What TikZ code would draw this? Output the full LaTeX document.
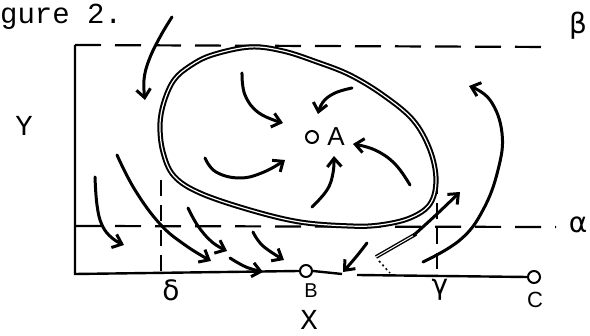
\documentclass[tikz,border=0pt]{standalone}
\usepackage{fontspec}
\setmonofont{Liberation Mono}
\setsansfont{Liberation Sans}
\newfontfamily\grkfont{DejaVu Sans}
\usetikzlibrary{arrows.meta}
\begin{document}
\begin{tikzpicture}[x=1pt,y=-1pt,
  ink/.style={line width=3pt, line cap=round, line join=round},
  harrow/.style={ink, -{Straight Barb[angle=80:11pt]}},
  axisline/.style={line width=2.4pt},
  hdash/.style={line width=2.2pt, dash pattern=on 26pt off 14pt},
  vdash/.style={line width=2.2pt, dash pattern=on 16pt off 9pt},
  rim/.style={line width=2pt, double=white, double distance=1.2pt},
  tt/.style={font=\fontsize{29}{33}\selectfont\ttfamily, inner sep=0pt},
  hand/.style={font=\fontsize{26}{30}\selectfont\sffamily, inner sep=0pt},
  greek/.style={font=\fontsize{28}{32}\selectfont\grkfont, inner sep=0pt},
]
\useasboundingbox (0,0) rectangle (590,336);

% title and labels
\node[tt, anchor=base west] (title) at (0,24) {gure 2.};
\node[tt] (ylab) at (24,126) {Y};
\node[tt] (xlab) at (309,320) {X};
\node[greek] (beta) at (578,26) {β};
\node[greek] (alpha) at (578,225) {α};
\node[greek] (delta) at (171,290) {δ};
\node[greek] (gamma) at (440,290) {γ};
\node[hand, font=\fontsize{20}{22}\selectfont\sffamily] (blab) at (311,291) {B};
\node[hand, font=\fontsize{22}{24}\selectfont\sffamily] (clab) at (535,300) {C};
\node[hand] (alab) at (336,137) {A};

% axes
\coordinate (origin) at (75,274);
\coordinate (ytop) at (75,45);
\node[circle, draw, line width=2pt, minimum size=12pt, inner sep=0pt] (B) at (306,271) {};
\node[circle, draw, line width=2pt, minimum size=12pt, inner sep=0pt] (C) at (534,277) {};
\node[circle, draw, line width=2pt, minimum size=12pt, inner sep=0pt] (Apt) at (312,137) {};
\draw[axisline] (ytop) -- (origin) -- (B.west);
\draw[axisline] (B.east) -- (342,274);
\draw[axisline] (357,275) -- (C.west);

% dashed lines
\draw[hdash] (ytop) -- (552,47);
\draw[hdash] (75,226) -- (556,227);
\draw[vdash] (161,180) -- (161,273);
\draw[vdash] (437,178) -- (437,271);

% the ellipse
\draw[rim] plot[smooth cycle, tension=0.6] coordinates {
 (160,125) (164,102) (174,80) (190,66) (212,55) (250,47) (283,51) (317,62)
 (350,75) (383,95) (413,120) (430,150) (436,180) (430,204) (410,218)
 (380,225) (350,226) (300,222) (250,210) (200,193) (174,176) (163,152)};

% arrows inside
\draw[harrow] plot[smooth, tension=0.7] coordinates {(242,73) (245,95) (259,113) (283,123)};
\draw[harrow] plot[smooth, tension=0.7] coordinates {(352,88) (335,93) (323,102) (318,114)};
\draw[harrow] plot[smooth, tension=0.7] coordinates {(205,158) (216,172) (240,178) (264,172) (285,160)};
\draw[harrow] plot[smooth, tension=0.7] coordinates {(312,207) (327,190) (333,173) (334,156)};
\draw[harrow] plot[smooth, tension=0.7] coordinates {(410,185) (395,164) (375,150) (353,144)};

% arrows outside
\draw[harrow] plot[smooth, tension=0.7] coordinates {(172,17) (160,37) (149,60) (144,80) (145,100)};
\draw[harrow] plot[smooth, tension=0.7] coordinates {(423,262) (460,240) (483,210) (498,170) (502,133) (490,100) (469,86)};
\draw[harrow] plot[smooth, tension=0.7] coordinates {(95,177) (97,205) (102,225) (112,238) (124,245)};
\draw[harrow] plot[smooth, tension=0.7] coordinates {(117,155) (135,190) (160,224) (185,245) (211,261)};
\draw[harrow] plot[smooth, tension=0.7] coordinates {(188,208) (198,226) (212,242) (227,251)};
\draw[harrow] plot[smooth, tension=0.7] coordinates {(230,258) (246,267) (263,272)};
\draw[harrow] plot[smooth, tension=0.7] coordinates {(253,232) (263,246) (284,260)};
\draw[harrow] plot[smooth, tension=0.7] coordinates {(367,243) (356,257) (343,272)};
\draw[rim, line width=1.4pt, double distance=1pt] (376,257) -- (416,234);
\draw[harrow] plot[smooth, tension=0.7] coordinates {(414,235) (437,214) (460,192)};
\draw[line width=1.6pt, dash pattern=on 2pt off 3pt] (379,261) -- (390,273);
\end{tikzpicture}
\end{document}
